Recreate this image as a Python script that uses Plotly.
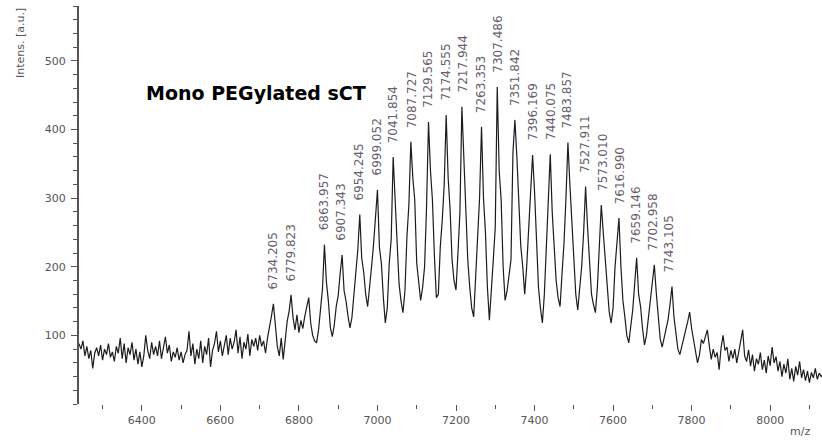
import numpy as np
import plotly.graph_objects as go

# ---------------- data ----------------
MZ_START = 6240   # first sample, m/z
MZ_STEP = 5       # sampling step, m/z

intensity = [
    # 6240
    88, 80, 92, 70, 84, 66, 78, 52, 74, 82,
    # 6290
    70, 86, 64, 80, 72, 88, 68, 76, 62, 84,
    # 6340
    74, 96, 66, 88, 60, 82, 72, 90, 64, 80,
    # 6390
    58, 76, 54, 70, 100, 78, 66, 90, 72, 84,
    # 6440
    70, 92, 66, 80, 98, 74, 86, 62, 76, 68,
    # 6490
    82, 64, 76, 60, 72, 78, 106, 70, 88, 58,
    # 6540
    80, 66, 92, 60, 84, 72, 96, 54, 78, 88,
    # 6590
    106, 76, 92, 70, 86, 100, 72, 96, 80, 90,
    # 6640
    108, 74, 98, 66, 90, 80, 102, 70, 94, 84,
    # 6690
    96, 78, 100, 84, 92, 74, 96, 110, 128, 146,
    # 6740
    112, 84, 70, 96, 65, 98, 120, 135, 159, 126,
    # 6790
    108, 130, 104, 122, 110, 128, 140, 155, 118, 100,
    # 6840
    92, 89, 108, 140, 168, 232, 178, 150, 112, 98,
    # 6890
    115, 142, 158, 190, 217, 165, 150, 128, 111, 126,
    # 6940
    160, 182, 225, 276, 212, 192, 160, 142, 168, 200,
    # 6990
    232, 275, 312, 228, 205, 155, 118, 140, 205, 240,
    # 7040
    360, 298, 240, 175, 150, 133, 165, 243, 290, 382,
    # 7090
    330, 297, 205, 175, 151, 170, 200, 287, 411, 340,
    # 7140
    297, 216, 155, 160, 229, 268, 320, 421, 330, 283,
    # 7190
    210, 180, 166, 220, 279, 433, 350, 297, 210, 170,
    # 7240
    140, 127, 180, 239, 300, 404, 300, 250, 170, 122,
    # 7290
    160, 210, 258, 462, 340, 297, 200, 151, 165, 190,
    # 7340
    210, 366, 414, 360, 283, 230, 200, 160, 200, 254,
    # 7390
    300, 363, 310, 250, 170, 140, 118, 160, 229, 290,
    # 7440
    364, 280, 233, 180, 155, 142, 190, 234, 300, 381,
    # 7490
    320, 260, 205, 160, 137, 165, 200, 250, 317, 258,
    # 7540
    210, 160, 145, 133, 170, 229, 290, 250, 210, 165,
    # 7590
    135, 118, 140, 200, 239, 271, 200, 151, 127, 100,
    # 7640
    89, 110, 137, 175, 213, 160, 142, 110, 86, 100,
    # 7690
    127, 150, 180, 203, 162, 130, 95, 83, 96, 110,
    # 7740
    123, 145, 171, 127, 105, 80, 72, 85, 100, 108,
    # 7790
    120, 134, 110, 94, 75, 60, 72, 94, 88, 100,
    # 7840
    108, 85, 65, 80, 68, 75, 50, 82, 100, 78,
    # 7890
    83, 62, 78, 66, 80, 60, 74, 92, 108, 70,
    # 7940
    62, 79, 55, 72, 48, 66, 58, 75, 50, 64,
    # 7990
    45, 70, 56, 83, 60, 69, 48, 62, 40, 58,
    # 8040
    45, 66, 36, 52, 33, 55, 42, 62, 38, 50,
    # 8090
    34, 48, 31, 46, 38, 52, 36, 45, 40, 43,
]

peak_labels = [
    "6734.205", "6779.823", "6863.957", "6907.343", "6954.245", "6999.052",
    "7041.854", "7087.727", "7129.565", "7174.555", "7217.944", "7263.353",
    "7307.486", "7351.842", "7396.169", "7440.075", "7483.857", "7527.911",
    "7573.010", "7616.990", "7659.146", "7702.958", "7743.105",
]
peak_mz = [float(s) for s in peak_labels]
peak_int = [
    146, 159, 232, 217, 276, 312,
    360, 382, 411, 421, 433, 404,
    462, 414, 363, 364, 381, 317,
    290, 271, 213, 203, 171,
]

x_tickvals = [6400, 6600, 6800, 7000, 7200, 7400, 7600, 7800, 8000]
y_tickvals = [100, 200, 300, 400, 500]
x_range = [6240, 8132]
y_range = [0, 580]

title_text = "Mono PEGylated sCT"
y_title = "Intens. [a.u.]"
x_title = "m/z"

# ---------------- figure ----------------
mz = MZ_START + MZ_STEP * np.arange(len(intensity))

AXIS_GRAY = "#555555"
tick_font = dict(family="DejaVu Sans", size=11, color=AXIS_GRAY)

fig = go.Figure()
fig.add_trace(go.Scatter(
    x=mz, y=intensity, mode="lines",
    line=dict(color="#1c1c1c", width=1.2),
    hoverinfo="skip", showlegend=False,
))

for lbl, xm, yi in zip(peak_labels, peak_mz, peak_int):
    fig.add_annotation(
        x=xm, y=yi, text=lbl, textangle=-90, showarrow=False,
        xanchor="center", yanchor="bottom", yshift=12,
        font=dict(family="DejaVu Sans", size=12, color="#675d6c"),
    )

fig.add_annotation(
    xref="paper", yref="paper", x=0.2382, y=0.781, text=title_text,
    showarrow=False, xanchor="center", yanchor="middle",
    font=dict(family="DejaVu Sans", size=19, color="#000000", weight="bold"),
)
fig.add_annotation(
    xref="paper", yref="paper", x=-0.0794, y=1.0, text=y_title,
    textangle=-90, showarrow=False, xanchor="center", yanchor="top",
    font=dict(family="DejaVu Sans", size=11, color=AXIS_GRAY),
)
fig.add_annotation(
    xref="paper", yref="paper", x=0.970, y=-0.070, text=x_title,
    showarrow=False, xanchor="center", yanchor="middle",
    font=dict(family="DejaVu Sans", size=11, color=AXIS_GRAY),
)

fig.update_layout(
    width=822, height=444,
    margin=dict(l=79, r=0, t=6, b=40),
    paper_bgcolor="white", plot_bgcolor="white",
    xaxis=dict(
        range=x_range, showline=False, showgrid=False, zeroline=False,
        ticks="outside", ticklen=6, tickwidth=1, tickcolor=AXIS_GRAY,
        tickvals=x_tickvals, ticktext=[str(v) for v in x_tickvals],
        tickfont=tick_font,
        minor=dict(dtick=100, tick0=6300, ticks="outside", ticklen=4,
                   tickwidth=1, tickcolor=AXIS_GRAY, showgrid=False),
    ),
    yaxis=dict(
        range=y_range, showline=True, linecolor=AXIS_GRAY, linewidth=2,
        showgrid=False, zeroline=False,
        ticks="outside", ticklen=6, tickwidth=1, tickcolor=AXIS_GRAY,
        tickvals=y_tickvals, ticktext=[str(v) for v in y_tickvals],
        tickfont=tick_font, ticklabelstandoff=3,
        minor=dict(dtick=20, tick0=0, ticks="outside", ticklen=4,
                   tickwidth=1, tickcolor=AXIS_GRAY, showgrid=False),
    ),
)

fig.write_html(
    "out.html",
    config={"displayModeBar": False, "staticPlot": True},
    post_script="document.body.style.margin='0';",
)
